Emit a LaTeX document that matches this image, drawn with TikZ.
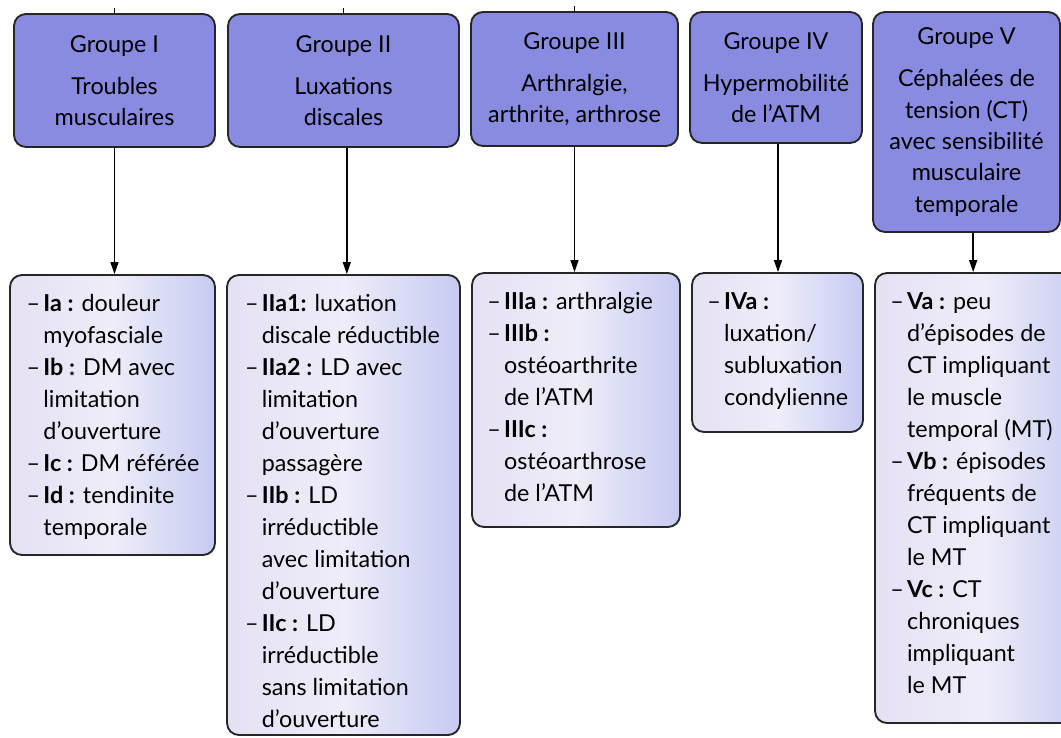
\documentclass[tikz,border=0pt]{standalone}
\usepackage{fontspec}
\setmainfont{Lato}
\usetikzlibrary{arrows.meta}
\definecolor{topblue}{RGB}{136,139,223}
\definecolor{botL}{RGB}{230,224,244}
\definecolor{botM}{RGB}{238,237,249}
\definecolor{botR}{RGB}{198,202,242}
\newcommand\itm[1]{\makebox[0.72em][l]{–}\textbf{#1}}
\newcommand\ind{\hspace*{0.72em}}
\begin{document}
\begin{tikzpicture}[x=0.75pt,y=-0.75pt,
 grp/.style={draw=black!85,line width=1.4pt,rounded corners=9pt,fill=topblue,align=center,font=\fontsize{17.5}{23.5}\selectfont,inner sep=0pt},
 sub/.style={draw=black!85,line width=1.4pt,rounded corners=9pt,left color=botL,right color=botR,middle color=botM,inner sep=0pt},
 txt/.style={align=left,font=\fontsize{17.5}{24}\selectfont,inner sep=0pt,anchor=north west},
 arr/.style={line width=1.1pt,-{Triangle[length=9pt,width=6pt]}},
 tick/.style={line width=1.1pt}]
\useasboundingbox (0,0) rectangle (1061,738);
\clip (0,0) rectangle (1061,738);
\fill[white] (0,0) rectangle (1061,738);

% top group boxes
\node[grp,minimum width=150.75pt,minimum height=99.75pt] (g1) at (114.5,80.5) {Groupe I\\[8pt]Troubles\\musculaires};
\node[grp,minimum width=173.25pt,minimum height=99.75pt] (g2) at (343.5,80.5) {Groupe II\\[8pt]Luxations\\discales};
\node[grp,minimum width=155.25pt,minimum height=100.5pt] (g3) at (574.5,79) {Groupe III\\[8pt]Arthralgie,\\arthrite, arthrose};
\node[grp,minimum width=129pt,minimum height=98.25pt] (g4) at (776,77.5) {Groupe IV\\[8pt]Hypermobilité\\de l’ATM};
\node[grp,minimum width=140.25pt,minimum height=165pt] (g5) at (966.5,122) {Groupe V\\[8pt]Céphalées de\\tension (CT)\\avec sensibilité\\musculaire\\temporale};

% bottom boxes
\node[sub,minimum width=153.75pt,minimum height=210pt] (b1) at (112.5,415) {};
\node[sub,minimum width=174.75pt,minimum height=345pt] (b2) at (343.5,505) {};
\node[sub,minimum width=156pt,minimum height=190.5pt] (b3) at (576,400) {};
\node[sub,minimum width=128.25pt,minimum height=119.25pt] (b4) at (777.5,352.5) {};
\node[sub,minimum width=161.25pt,minimum height=337.5pt] (b5) at (982.5,498) {};

\node[txt] (b1t) at ([xshift=13pt,yshift=-15pt]b1.north west) {\itm{Ia :} douleur\\\ind myofasciale\\\itm{Ib :} DM avec\\\ind limitation\\\ind d’ouverture\\\itm{Ic :} DM référée\\\itm{Id :} tendinite\\\ind temporale};
\node[txt] (b2t) at ([xshift=14pt,yshift=-15pt]b2.north west) {\itm{IIa1:} luxation\\\ind discale réductible\\\itm{IIa2 :} LD avec\\\ind limitation\\\ind d’ouverture\\\ind passagère\\\itm{IIb :} LD\\\ind irréductible\\\ind avec limitation\\\ind d’ouverture\\\itm{IIc :} LD\\\ind irréductible\\\ind sans limitation\\\ind d’ouverture};
\node[txt] (b3t) at ([xshift=12pt,yshift=-15pt]b3.north west) {\itm{IIIa :} arthralgie\\\itm{IIIb :}\\\ind ostéoarthrite\\\ind de l’ATM\\\itm{IIIc :}\\\ind ostéoarthrose\\\ind de l’ATM};
\node[txt] (b4t) at ([xshift=12pt,yshift=-15pt]b4.north west) {\itm{IVa :}\\\ind luxation/\\\ind subluxation\\\ind condylienne};
\node[txt] (b5t) at ([xshift=12pt,yshift=-15pt]b5.north west) {\itm{Va :} peu\\\ind d’épisodes de\\\ind CT impliquant\\\ind le muscle\\\ind temporal (MT)\\\itm{Vb :} épisodes\\\ind fréquents de\\\ind CT impliquant\\\ind le MT\\\itm{Vc :} CT\\\ind chroniques\\\ind impliquant\\\ind le MT};

% connectors
\draw[arr] (g1.south) -- (g1.south |- b1.north);
\draw[arr] ([xshift=2.5pt]g2.south) -- ([xshift=2.5pt]g2.south |- b2.north);
\draw[arr] (g3.south) -- (g3.south |- b3.north);
\draw[arr] ([xshift=1.5pt]g4.south) -- ([xshift=1.5pt]g4.south |- b4.north);
\draw[arr] ([xshift=5pt]g5.south) -- ([xshift=5pt]g5.south |- b5.north);
\foreach \i in {1,2,3}{
  \draw[tick] (g\i.north) -- ++(0,-5);
}
\end{tikzpicture}
\end{document}
